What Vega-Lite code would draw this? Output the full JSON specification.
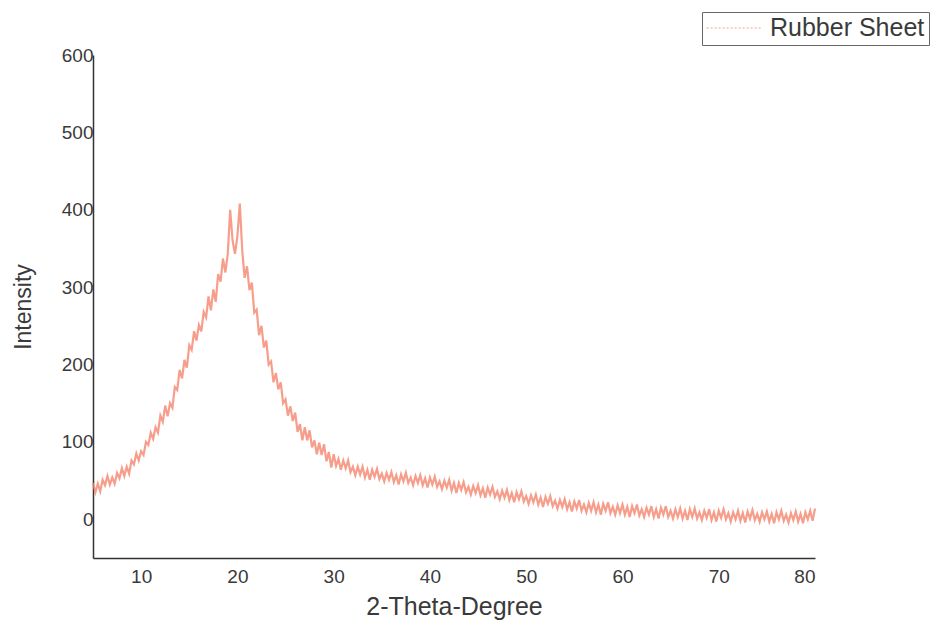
{
  "$schema": "https://vega.github.io/schema/vega-lite/v6.json",
  "autosize": {"type": "none"},
  "padding": {"left": 93, "top": 55, "right": 120, "bottom": 65},
  "width": 722,
  "height": 503,
  "background": "white",
  "config": {"view": {"stroke": null}, "font": "Liberation Sans"},
  "data": {"values": [
    {"x":5,"y":47},{"x":5.25,"y":35},{"x":5.5,"y":46},{"x":5.75,"y":36},{"x":6,"y":51},{"x":6.25,"y":44},{"x":6.5,"y":56},{"x":6.75,"y":45},
    {"x":7,"y":54},{"x":7.25,"y":46},{"x":7.5,"y":60},{"x":7.75,"y":53},{"x":8,"y":66},{"x":8.25,"y":56},{"x":8.5,"y":68},{"x":8.75,"y":59},
    {"x":9,"y":76},{"x":9.25,"y":71},{"x":9.5,"y":85},{"x":9.75,"y":76},{"x":10,"y":88},{"x":10.25,"y":83},{"x":10.5,"y":100},{"x":10.75,"y":96},
    {"x":11,"y":112},{"x":11.25,"y":104},{"x":11.5,"y":119},{"x":11.75,"y":112},{"x":12,"y":134},{"x":12.25,"y":126},{"x":12.5,"y":147},{"x":12.75,"y":133},
    {"x":13,"y":150},{"x":13.25,"y":144},{"x":13.5,"y":171},{"x":13.75,"y":167},{"x":14,"y":193},{"x":14.25,"y":182},{"x":14.5,"y":206},{"x":14.75,"y":196},
    {"x":15,"y":225},{"x":15.25,"y":219},{"x":15.5,"y":243},{"x":15.75,"y":231},{"x":16,"y":251},{"x":16.25,"y":243},{"x":16.5,"y":268},{"x":16.75,"y":261},
    {"x":17,"y":288},{"x":17.25,"y":270},{"x":17.5,"y":297},{"x":17.75,"y":281},{"x":18,"y":317},{"x":18.25,"y":307},{"x":18.5,"y":337},{"x":18.75,"y":319},
    {"x":19,"y":343},{"x":19.25,"y":400},{"x":19.5,"y":360},{"x":19.75,"y":343},{"x":20,"y":366},{"x":20.25,"y":408},{"x":20.5,"y":348},{"x":20.75,"y":312},
    {"x":21,"y":327},{"x":21.25,"y":296},{"x":21.5,"y":306},{"x":21.75,"y":267},{"x":22,"y":271},{"x":22.25,"y":238},{"x":22.5,"y":250},{"x":22.75,"y":222},
    {"x":23,"y":231},{"x":23.25,"y":200},{"x":23.5,"y":204},{"x":23.75,"y":177},{"x":24,"y":189},{"x":24.25,"y":168},{"x":24.5,"y":177},{"x":24.75,"y":150},
    {"x":25,"y":155},{"x":25.25,"y":134},{"x":25.5,"y":146},{"x":25.75,"y":127},{"x":26,"y":138},{"x":26.25,"y":113},{"x":26.5,"y":123},{"x":26.75,"y":102},
    {"x":27,"y":119},{"x":27.25,"y":102},{"x":27.5,"y":115},{"x":27.75,"y":93},{"x":28,"y":102},{"x":28.25,"y":84},{"x":28.5,"y":99},{"x":28.75,"y":83},
    {"x":29,"y":97},{"x":29.25,"y":75},{"x":29.5,"y":87},{"x":29.75,"y":67},{"x":30,"y":84},{"x":30.25,"y":69},{"x":30.5,"y":78},{"x":30.75,"y":64},
    {"x":31,"y":76},{"x":31.25,"y":66},{"x":31.5,"y":76},{"x":31.75,"y":61},{"x":32,"y":68},{"x":32.25,"y":57},{"x":32.5,"y":68},{"x":32.75,"y":58},
    {"x":33,"y":68},{"x":33.25,"y":54},{"x":33.5,"y":64},{"x":33.75,"y":51},{"x":34,"y":64},{"x":34.25,"y":55},{"x":34.5,"y":65},{"x":34.75,"y":52},
    {"x":35,"y":59},{"x":35.25,"y":49},{"x":35.5,"y":60},{"x":35.75,"y":51},{"x":36,"y":61},{"x":36.25,"y":48},{"x":36.5,"y":57},{"x":36.75,"y":45},
    {"x":37,"y":58},{"x":37.25,"y":49},{"x":37.5,"y":60},{"x":37.75,"y":47},{"x":38,"y":54},{"x":38.25,"y":44},{"x":38.5,"y":56},{"x":38.75,"y":47},
    {"x":39,"y":57},{"x":39.25,"y":44},{"x":39.5,"y":53},{"x":39.75,"y":41},{"x":40,"y":54},{"x":40.25,"y":45},{"x":40.5,"y":55},{"x":40.75,"y":42},
    {"x":41,"y":49},{"x":41.25,"y":39},{"x":41.5,"y":50},{"x":41.75,"y":41},{"x":42,"y":51},{"x":42.25,"y":37},{"x":42.5,"y":47},{"x":42.75,"y":34},
    {"x":43,"y":47},{"x":43.25,"y":38},{"x":43.5,"y":48},{"x":43.75,"y":35},{"x":44,"y":42},{"x":44.25,"y":32},{"x":44.5,"y":43},{"x":44.75,"y":34},
    {"x":45,"y":44},{"x":45.25,"y":31},{"x":45.5,"y":40},{"x":45.75,"y":28},{"x":46,"y":41},{"x":46.25,"y":32},{"x":46.5,"y":42},{"x":46.75,"y":29},
    {"x":47,"y":36},{"x":47.25,"y":26},{"x":47.5,"y":37},{"x":47.75,"y":28},{"x":48,"y":38},{"x":48.25,"y":25},{"x":48.5,"y":34},{"x":48.75,"y":22},
    {"x":49,"y":35},{"x":49.25,"y":26},{"x":49.5,"y":36},{"x":49.75,"y":23},{"x":50,"y":30},{"x":50.25,"y":20},{"x":50.5,"y":31},{"x":50.75,"y":22},
    {"x":51,"y":32},{"x":51.25,"y":19},{"x":51.5,"y":28},{"x":51.75,"y":16},{"x":52,"y":29},{"x":52.25,"y":20},{"x":52.5,"y":30},{"x":52.75,"y":17},
    {"x":53,"y":24},{"x":53.25,"y":14},{"x":53.5,"y":25},{"x":53.75,"y":16},{"x":54,"y":26},{"x":54.25,"y":13},{"x":54.5,"y":22},{"x":54.75,"y":10},
    {"x":55,"y":23},{"x":55.25,"y":14},{"x":55.5,"y":25},{"x":55.75,"y":11},{"x":56,"y":19},{"x":56.25,"y":9},{"x":56.5,"y":21},{"x":56.75,"y":11},
    {"x":57,"y":22},{"x":57.25,"y":9},{"x":57.5,"y":19},{"x":57.75,"y":6},{"x":58,"y":20},{"x":58.25,"y":11},{"x":58.5,"y":22},{"x":58.75,"y":8},
    {"x":59,"y":16},{"x":59.25,"y":6},{"x":59.5,"y":18},{"x":59.75,"y":8},{"x":60,"y":19},{"x":60.25,"y":6},{"x":60.5,"y":16},{"x":60.75,"y":3},
    {"x":61,"y":17},{"x":61.25,"y":8},{"x":61.5,"y":19},{"x":61.75,"y":5},{"x":62,"y":13},{"x":62.25,"y":3},{"x":62.5,"y":15},{"x":62.75,"y":6},
    {"x":63,"y":17},{"x":63.25,"y":3},{"x":63.5,"y":13},{"x":63.75,"y":1},{"x":64,"y":15},{"x":64.25,"y":6},{"x":64.5,"y":17},{"x":64.75,"y":3},
    {"x":65,"y":11},{"x":65.25,"y":1},{"x":65.5,"y":13},{"x":65.75,"y":3},{"x":66,"y":14},{"x":66.25,"y":1},{"x":66.5,"y":11},{"x":66.75,"y":-1},
    {"x":67,"y":13},{"x":67.25,"y":3},{"x":67.5,"y":14},{"x":67.75,"y":1},{"x":68,"y":9},{"x":68.25,"y":-1},{"x":68.5,"y":11},{"x":68.75,"y":2},
    {"x":69,"y":13},{"x":69.25,"y":-1},{"x":69.5,"y":9},{"x":69.75,"y":-3},{"x":70,"y":11},{"x":70.25,"y":2},{"x":70.5,"y":13},{"x":70.75,"y":0},
    {"x":71,"y":8},{"x":71.25,"y":-3},{"x":71.5,"y":9},{"x":71.75,"y":0},{"x":72,"y":11},{"x":72.25,"y":-2},{"x":72.5,"y":8},{"x":72.75,"y":-4},
    {"x":73,"y":10},{"x":73.25,"y":1},{"x":73.5,"y":12},{"x":73.75,"y":-1},{"x":74,"y":7},{"x":74.25,"y":-3},{"x":74.5,"y":9},{"x":74.75,"y":0},
    {"x":75,"y":10},{"x":75.25,"y":-3},{"x":75.5,"y":7},{"x":75.75,"y":-5},{"x":76,"y":9},{"x":76.25,"y":0},{"x":76.5,"y":11},{"x":76.75,"y":-2},
    {"x":77,"y":6},{"x":77.25,"y":-4},{"x":77.5,"y":8},{"x":77.75,"y":-1},{"x":78,"y":10},{"x":78.25,"y":-3},{"x":78.5,"y":7},{"x":78.75,"y":-5},
    {"x":79,"y":9},{"x":79.25,"y":0},{"x":79.5,"y":11},{"x":79.75,"y":-2},{"x":80,"y":14}
  ]},
  "mark": {"type": "line", "strokeWidth": 2.2, "opacity": 0.8},
  "encoding": {
    "x": {
      "field": "x", "type": "quantitative",
      "scale": {"domain": [5, 80], "nice": false, "zero": false},
      "axis": {
        "title": "2-Theta-Degree", "values": [10, 20, 30, 40, 50, 60, 70, 80],
        "grid": false, "ticks": false, "labelPadding": 9,
        "domainColor": "#333", "domainWidth": 1.5,
        "labelFontSize": 19, "labelColor": "#3a3a3a", "labelFont": "Liberation Sans",
        "titleFontSize": 25, "titleFontWeight": "normal", "titleColor": "#3a3a3a", "titleFont": "Liberation Sans",
        "titlePadding": 8
      }
    },
    "y": {
      "field": "y", "type": "quantitative",
      "scale": {"domain": [-50, 600], "nice": false, "zero": false},
      "axis": {
        "title": "Intensity", "values": [0, 100, 200, 300, 400, 500, 600],
        "grid": false, "ticks": false, "labelPadding": 0,
        "domainColor": "#333", "domainWidth": 1.5,
        "labelFontSize": 19, "labelColor": "#3a3a3a", "labelFont": "Liberation Sans",
        "titleFontSize": 23, "titleFontWeight": "normal", "titleColor": "#3a3a3a", "titleFont": "Liberation Sans",
        "titlePadding": 26
      }
    },
    "color": {
      "datum": "Rubber Sheet", "type": "nominal",
      "scale": {"range": ["#f4866e"]},
      "legend": {
        "title": null, "orient": "none", "legendX": 609, "legendY": -43,
        "strokeColor": "#666", "fillColor": "white", "padding": 4, "clipHeight": 24,
        "symbolType": "stroke", "symbolSize": 3000, "symbolStrokeWidth": 1, "symbolDash": [2, 2],
        "labelFontSize": 25, "labelColor": "#3a3a3a", "labelFont": "Liberation Sans", "labelOffset": 8
      }
    }
  }
}
